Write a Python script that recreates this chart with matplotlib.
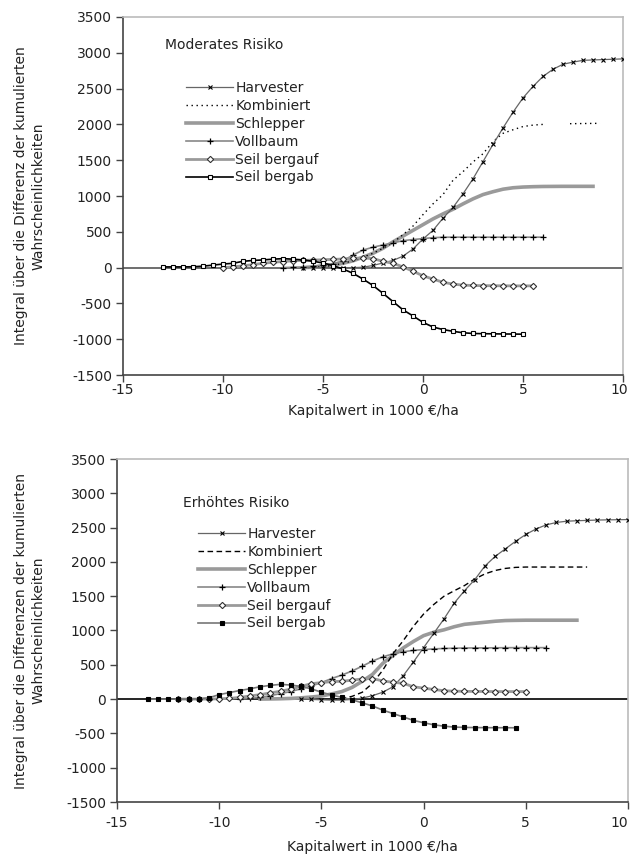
import numpy as np
import matplotlib
matplotlib.use("Agg")
import matplotlib.pyplot as plt

plt.rcParams['font.family'] = ['DejaVu Sans']
nan = np.nan

labels = ["Harvester", "Kombiniert", "Schlepper", "Vollbaum", "Seil bergauf", "Seil bergab"]
xticks = [-15, -10, -5, 0, 5, 10]
yticks = [-1500, -1000, -500, 0, 500, 1000, 1500, 2000, 2500, 3000, 3500]

# ---------- Moderates Risiko ----------
m_harv_x = [-6, -5.5, -5, -4.5, -4, -3.5, -3, -2.5, -2, -1.5, -1, -0.5, 0, 0.5, 1, 1.5, 2, 2.5, 3,
            3.5, 4, 4.5, 5, 5.5, 6, 6.5, 7, 7.5, 8, 8.5, 9, 9.5, 10]
m_harv_y = [0, 0, 0, 0, 0, 0, 5, 30, 65, 100, 160, 260, 400, 520, 690, 840, 1030, 1240, 1480,
            1720, 1950, 2170, 2370, 2530, 2670, 2770, 2840, 2870, 2895, 2900, 2905, 2910, 2915]

m_komb_x = [-6, -5.5, -5, -4.5, -4, -3.5, -3, -2.5, -2, -1.5, -1, -0.5, 0, 0.5, 1, 1.5, 2, 2.5, 3,
            3.5, 4, 4.5, 5, 5.5, 6, 6.5, 7.35, 8.85]
m_komb_y = [0, 5, 15, 30, 60, 95, 145, 200, 270, 350, 460, 580, 740, 890, 1020, 1220, 1340, 1475, 1590,
            1760, 1875, 1925, 1970, 1990, 2000, nan, 2010, 2015]

m_schl_x = [-6, -5.5, -5, -4.5, -4, -3.5, -3, -2.5, -2, -1.5, -1, -0.5, 0, 0.5, 1, 1.5, 2, 2.5, 3,
            3.5, 4, 4.5, 5, 5.5, 6, 6.5, 7, 7.5, 8, 8.5]
m_schl_y = [0, 5, 15, 35, 60, 95, 145, 200, 270, 360, 440, 520, 600, 680, 750, 815, 890, 960, 1020,
            1060, 1095, 1115, 1125, 1130, 1133, 1134, 1135, 1135, 1135, 1135]

m_voll_x = [-7, -6.5, -6, -5.5, -5, -4.5, -4, -3.5, -3, -2.5, -2, -1.5, -1, -0.5, 0, 0.5, 1, 1.5, 2,
            2.5, 3, 3.5, 4, 4.5, 5, 5.5, 6]
m_voll_y = [0, 5, 10, 20, 40, 55, 95, 175, 245, 285, 316, 346, 376, 392, 405, 418, 424, 425, 425,
            425, 425, 425, 425, 425, 425, 425, 425]

m_sauf_x = [-10, -9.5, -9, -8.5, -8, -7.5, -7, -6.5, -6, -5.5, -5, -4.5, -4, -3.5, -3, -2.5, -2, -1.5,
            -1, -0.5, 0, 0.5, 1, 1.5, 2, 2.5, 3, 3.5, 4, 4.5, 5, 5.5]
m_sauf_y = [0, 10, 25, 42, 60, 75, 85, 95, 100, 105, 110, 115, 120, 130, 135, 125, 88, 60,
            10, -50, -115, -160, -205, -230, -245, -250, -252, -253, -254, -255, -255, -255]

m_sab_x = [-13, -12.5, -12, -11.5, -11, -10.5, -10, -9.5, -9, -8.5, -8, -7.5, -7, -6.5, -6, -5.5, -5,
           -4.5, -4, -3.5, -3, -2.5, -2, -1.5, -1, -0.5, 0, 0.5, 1, 1.5, 2, 2.5, 3, 3.5, 4, 4.5, 5]
m_sab_y = [10, 10, 10, 12, 20, 35, 50, 60, 88, 100, 107, 118, 125, 118, 107, 88, 65,
           28, -19, -80, -160, -250, -360, -475, -590, -675, -765, -830, -865, -890, -910, -920, -923,
           -925, -927, -928, -930]

# ---------- Erhöhtes Risiko ----------
e_harv_x = [-6, -5.5, -5, -4.5, -4, -3.5, -3, -2.5, -2, -1.5, -1, -0.5, 0, 0.5, 1, 1.5, 2, 2.5, 3,
            3.5, 4, 4.5, 5, 5.5, 6, 6.5, 7, 7.5, 8, 8.5, 9, 9.5, 10]
e_harv_y = [0, -5, -10, -15, -15, -5, 15, 50, 100, 180, 340, 540, 750, 960, 1170, 1400, 1580, 1740, 1940,
            2080, 2190, 2300, 2400, 2480, 2540, 2575, 2593, 2600, 2605, 2610, 2613, 2615, 2617]

e_komb_x = [-4.5, -4, -3.5, -3, -2.5, -2, -1.5, -1, -0.5, 0, 0.5, 1, 1.5, 2, 2.5, 3, 3.5, 4, 4.5,
            5, 5.5, 6, 6.5, 7, 7.5, 8]
e_komb_y = [0, 10, 40, 100, 230, 420, 660, 850, 1060, 1240, 1380, 1500, 1580, 1655, 1750, 1825, 1875,
            1905, 1920, 1925, 1925, 1925, 1925, 1925, 1925, 1925]

e_schl_x = [-8, -7.5, -7, -6.5, -6, -5.5, -5, -4.5, -4, -3.5, -3, -2.5, -2, -1.5, -1, -0.5, 0, 0.5,
            1, 1.5, 2, 2.5, 3, 3.5, 4, 4.5, 5, 5.5, 6, 6.5, 7, 7.5]
e_schl_y = [0, 2, 5, 10, 18, 30, 45, 75, 110, 170, 260, 360, 520, 635, 745, 840, 925, 975,
            1010, 1055, 1090, 1105, 1120, 1135, 1145, 1148, 1150, 1150, 1150, 1150, 1150, 1150]

e_voll_x = [-9, -8.5, -8, -7.5, -7, -6.5, -6, -5.5, -5, -4.5, -4, -3.5, -3, -2.5, -2, -1.5, -1, -0.5,
            0, 0.5, 1, 1.5, 2, 2.5, 3, 3.5, 4, 4.5, 5, 5.5, 6]
e_voll_y = [0, 10, 25, 50, 80, 110, 150, 190, 240, 300, 350, 410, 480, 555, 615, 660, 690, 710,
            722, 732, 738, 742, 745, 746, 747, 748, 749, 750, 750, 750, 750]

e_sauf_x = [-12, -11.5, -11, -10.5, -10, -9.5, -9, -8.5, -8, -7.5, -7, -6.5, -6, -5.5, -5, -4.5, -4,
            -3.5, -3, -2.5, -2, -1.5, -1, -0.5, 0, 0.5, 1, 1.5, 2, 2.5, 3, 3.5, 4, 4.5, 5]
e_sauf_y = [0, 0, 0, 0, 5, 10, 25, 45, 65, 90, 115, 145, 185, 225, 240, 255, 260,
            275, 295, 300, 265, 245, 230, 180, 160, 140, 122, 116, 113, 112, 111, 110, 110, 110, 110]

e_sab_x = [-13.5, -13, -12.5, -12, -11.5, -11, -10.5, -10, -9.5, -9, -8.5, -8, -7.5, -7, -6.5, -6,
           -5.5, -5, -4.5, -4, -3.5, -3, -2.5, -2, -1.5, -1, -0.5, 0, 0.5, 1, 1.5, 2, 2.5, 3, 3.5, 4, 4.5]
e_sab_y = [0, 0, 0, 0, 0, 5, 20, 65, 95, 125, 150, 180, 200, 215, 205, 185,
           150, 100, 60, 25, -10, -55, -100, -160, -210, -260, -310, -345, -375, -395, -408, -413, -415,
           -416, -417, -417, -418]

FS = 10

fig = plt.figure(figsize=(6.30, 8.63), dpi=100)
ax1 = fig.add_axes([123/630, 1-375/863, 500/630, (375-17)/863])
ax2 = fig.add_axes([117/630, 1-802/863, 511/630, (802-459)/863])


def style(ax, ylabel, ylabel_x, tpad, lpad):
    ax.set_xlim(-15, 10)
    ax.set_ylim(-1500, 3500)
    ax.set_xticks(xticks)
    ax.set_yticks(yticks)
    xl = ax.set_xticklabels([str(t) for t in xticks], fontsize=FS, color='#222')
    xl[-1].set_horizontalalignment('right')
    xl[-1].set_x(0)
    ax.set_yticklabels([str(t) for t in yticks], fontsize=FS, color='#222')
    ax.tick_params(direction='out', length=5, width=1, color='#444', pad=3)
    ax.tick_params(axis='x', pad=tpad)
    for s in ['left', 'bottom']:
        ax.spines[s].set_color('#444')
        ax.spines[s].set_linewidth(1.2)
    for s in ['top', 'right']:
        ax.spines[s].set_color('#bbbbbb')
        ax.spines[s].set_linewidth(1.2)
    ax.set_xlabel("Kapitalwert in 1000 €/ha", fontsize=FS, color='#222', labelpad=lpad)
    ax.set_ylabel(ylabel, fontsize=FS, color='#222', linespacing=1.35)
    ax.yaxis.set_label_coords(ylabel_x, 0.5)


def plot_all(ax, data, komb_ls, sab_face, sab_line, zero_color):
    ax.axhline(0, color=zero_color, lw=1.2, zorder=1)
    (hx, hy), (kx, ky), (sx, sy), (vx, vy), (ax_, ay), (bx, by) = data
    h = []
    h += ax.plot(hx, hy, color='#666', lw=0.9, marker='x', ms=3.5, mec='black', mew=0.8, zorder=5)
    h += ax.plot(kx, ky, color='black', lw=1.0, ls=komb_ls, zorder=4)
    h += ax.plot(sx, sy, color='#9a9a9a', lw=2.6, zorder=3)
    h += ax.plot(vx, vy, color='#888', lw=1.2, marker='+', ms=5, mec='black', mew=0.9, zorder=5)
    h += ax.plot(ax_, ay, color='#9a9a9a', lw=2.0, marker='D', ms=3.2, mfc='white', mec='#333',
                 mew=0.8, zorder=5)
    h += ax.plot(bx, by, color=sab_line, lw=1.2, marker='s', ms=3.2, mfc=sab_face, mec='black',
                 mew=0.8, zorder=6)
    return h


h1 = plot_all(ax1, [(m_harv_x, m_harv_y), (m_komb_x, m_komb_y), (m_schl_x, m_schl_y),
                    (m_voll_x, m_voll_y), (m_sauf_x, m_sauf_y), (m_sab_x, m_sab_y)],
              (0, (1, 2.6)), 'white', 'black', '#555')
h2 = plot_all(ax2, [(e_harv_x, e_harv_y), (e_komb_x, e_komb_y), (e_schl_x, e_schl_y),
                    (e_voll_x, e_voll_y), (e_sauf_x, e_sauf_y), (e_sab_x, e_sab_y)],
              (0, (4, 2.5)), 'black', '#777', 'black')

style(ax1, "Integral über die Differenz der kumulierten\nWahrscheinlichkeiten", -0.155, 1, 5)
style(ax2, "Integral über die Differenzen der kumulierten\nWahrscheinlichkeiten", -0.14, 5, 7)

# nudge last tick label so it stays inside the figure
for ax in (ax1, ax2):
    lab = ax.get_xticklabels()[-1]
    lab.set_horizontalalignment('center')
fig.canvas.draw()
from matplotlib.transforms import ScaledTranslation
for ax, dx in ((ax1, -4), (ax2, -9)):
    lab = ax.get_xticklabels()[-1]
    lab.set_transform(lab.get_transform() + ScaledTranslation(dx/100, 0, fig.dpi_scale_trans))

ax1.text(165/630, 1-45/863, "Moderates Risiko", transform=fig.transFigure, fontsize=FS,
         color='#222', va='center', ha='left')
ax2.text(183/630, 1-503/863, "Erhöhtes Risiko", transform=fig.transFigure, fontsize=FS,
         color='#222', va='center', ha='left')

leg_kw = dict(frameon=False, fontsize=FS, handlelength=3.4, handletextpad=0.15,
              labelspacing=0.28, borderaxespad=0, borderpad=0, labelcolor='#222')
fig.legend(h1, labels, loc='upper left', bbox_to_anchor=(186/630, 1-81/863), **leg_kw)
fig.legend(h2, labels, loc='upper left', bbox_to_anchor=(198/630, 1-527/863), **leg_kw)

fig.savefig("out.png", dpi=100)
